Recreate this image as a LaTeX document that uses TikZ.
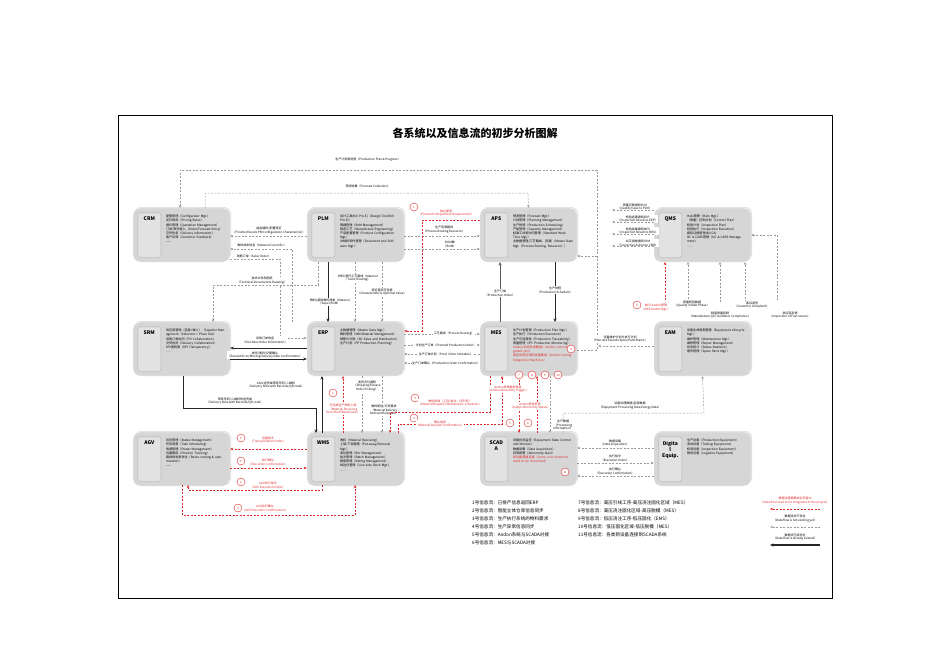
\documentclass[tikz,border=0pt]{standalone}
\usepackage{fontspec}
\setmainfont{Noto Sans CJK SC}
\usetikzlibrary{arrows.meta,calc,shadows}
\definecolor{rd}{HTML}{E0292B}
\definecolor{gl}{HTML}{9A9A9A}
\definecolor{bx}{HTML}{D6D6D6}
\definecolor{st}{HTML}{E2E2E2}
\tikzset{
 sys/.style={draw=white,fill=bx,rounded corners=7pt,minimum width=97pt,minimum height=54pt,drop shadow={opacity=0.25,shadow xshift=1pt,shadow yshift=1pt}},
 txt/.style={font=\fontsize{3.1}{4.2}\selectfont,align=left,anchor=north west,text width=#1,inner sep=0pt},
 txt/.default=60pt,
 ttl/.style={font=\fontsize{5}{6}\selectfont\bfseries,align=center,anchor=north,inner sep=0pt},
 lbl/.style={font=\fontsize{3}{3.8}\selectfont,align=center,inner sep=0.5pt,fill=white},
 rlbl/.style={lbl,text=rd},
 gd/.style={draw=gl,dashed,dash pattern=on 2pt off 1.5pt,line width=0.5pt,-{Stealth[length=3pt,width=2.5pt]}},
 rdd/.style={draw=rd,dash pattern=on 2pt off 1.5pt,line width=0.6pt,-{Stealth[length=3pt,width=2.5pt]}},
 sol/.style={draw=black!85,line width=0.8pt,-{Stealth[length=3.5pt,width=3pt]}},
 circ/.style={circle,draw=rd,fill=white,minimum size=8pt,inner sep=0pt,font=\fontsize{3}{3}\selectfont,text=rd},
 leg/.style={font=\fontsize{4.6}{5.5}\selectfont,anchor=west,inner sep=0pt},
}
\newcommand{\sysbox}[6]{%
 \node[sys] (#1) at (#2,#3) {};
 \draw[draw=gray!60,fill=st,rounded corners=1.5pt] ($(#1.north west)+(5,5)$) rectangle ($(#1.south west)+(28,-5)$);
 \node[ttl] (#1t) at ($(#1.north west)+(16.5,9)$) {#4};
 \node[txt] (#1c) at ($(#1.north west)+(33,7)$) {#5};
}
\begin{document}
\begin{tikzpicture}[x=1pt,y=-1pt]
\fill[white] (0,0) rectangle (950,666);
\useasboundingbox (0,0) rectangle (950,666);
\draw[black,line width=0.7pt] (118,115) rectangle (832,598);
\node[font=\fontsize{11}{12}\selectfont\bfseries] (title) at (475,133) {各系统以及信息流的初步分析图解};

% boxes
\sysbox{crm}{181.5}{235}{CRM}{配置管理（Configurator Mgt.）\\定价规则（Pricing Rules）\\报价管理（Quotation Management）\\订单/预测录入（Order/Forecast Entry）\\交货信息（Delivery Information）\\客户反馈（Customer Feedback）\\——}{}
\sysbox{plm}{355.5}{235}{PLM}{设计工具(Kill Pro.E)（Design Tool(Kill Pro.E)）\\明细管理（BoM Management）\\制造工艺（Manufacture Engineering）\\产品配置管理（Product Configuration Mgt.）\\文档和软件管理（Document and Software Mgt.）}{}
\sysbox{aps}{528.5}{235}{APS}{预测管理（Forecast Mgt.）\\计划管理（Planning Management）\\生产排程（Production Scheduling）\\产能管理（Capacity Management）\\标准工时和时间管理（Standard Work Time Mgt.）\\主数据管理(工艺路线、资源)（Master Data Mgt.（Process Routing, Resource））}{}
\sysbox{qms}{702.5}{235}{QMS}{Halo管理（Halo Mgt.）\\（质量）控制计划（Control Plan）\\检验计划（Inspection Plan）\\检验执行（Inspection Execution）\\报告证据管理(8D/CA)\\NC \& CARS管理（NC \& CARS Management）\\……}{}
\sysbox{srm}{181.5}{349}{SRM}{供应商管理（选择>准入）（Supplier Management（Selection > Place Out）\\采购订单协同（PO Collaboration）\\交货协同（Delivery Collaboration）\\KPI透明度（KPI Transparency）\\……}{}
\sysbox{erp}{355.5}{349}{ERP}{主数据管理（Master Data Mgt.）\\物料管理（MM Material Management）\\销售与分销（SD Sales and Distribution）\\生产计划（PP Production Planning）}{}
\sysbox{mes}{528.5}{349}{MES}{生产计划管理（Production Plan Mgt.）\\生产执行（Production Execution）\\生产可追溯性（Production Traceability）\\质量管理（IPC Production Monitoring）\\\textcolor{rd}{Andon(尚未系统集成)（Andon (not integrated yet)）}\\\textcolor{rd}{高压系统区域的设备集成（Andon Casting Integration Machines）}}{}
\sysbox{eam}{702.5}{349}{EAM}{设备生命周期管理（Equipment Lifecycle Mgt.）\\维护管理（Maintenance Mgt.）\\维修管理（Repair Management）\\状态统计（Status Statistics）\\备件管理（Spare Parts Mgt.）}{}
\sysbox{agv}{181.5}{459}{AGV}{状态管理（Status Management）\\任务调度（Task Scheduling）\\电源管理（Power Management）\\位置跟踪（Position Tracking）\\路线规划和优化（Route routing \& optimization）\\——}{}
\sysbox{wms}{355.5}{459}{WMS}{收料（Material Receiving）\\上架/下架管理（Put-away/Removal Mgt.）\\库位管理（Bin Management）\\批次管理（Batch Management）\\配套管理（Kitting Management）\\线边仓管理（Line-side Stock Mgt.）\\……}{}
\sysbox{scada}{528.5}{459}{SCAD\\A}{设备状态监控（Equipment State Control and Monitor）\\数据采集（Data Acquisition）\\异常报警（Abnormity Alert）\\\textcolor{rd}{新设备需要连接（Some new machines need to be connected）}}{}
\sysbox{dig}{702.5}{459}{Digita\\l\\Equip.}{生产设备（Production Equipment）\\测试设备（Testing Equipment）\\检测设备（Inspection Equipment）\\物流设备（Logistics Equipment）}{}

% top loops
\draw[gd] (mes.east |- 0,350) -- (597,350) -- (597,170) -- (180,170) -- (180,208);
\node[lbl] (l1) at (368,160) {生产计划和进度（Production Plan \& Progress）};
\draw[gd] (205,208) -- (205,193) -- (528,193) -- (aps.north);
\node[lbl] (l2) at (368,186) {预测收集（Forecast Collection）};
% CRM-PLM
\draw[gd] (plm.west |- 0,236) -- (crm.east |- 0,236);
\node[lbl] (l3) at (269,231) {成品编码/配置特征\\（Finished Goods PN/Configuration Characteristic）};
\draw[gd] (292,322) -- (292,249) -- (crm.east |- 0,249);
\node[lbl] (l4) at (262,245) {物料成本信息（Material Cost Info.）};
\draw[gd] (crm.east |- 0,259) -- (280,259) -- (280,338) -- (erp.west |- 0,338);
\node[lbl] (l5) at (254,256) {销售订单（Sales Order）};
\draw[gd] (318,262) -- (318,285) -- (213,285) -- (213,322);
\node[lbl] (l6) at (262,281) {技术文件和图纸\\（Technical Document \& Drawing）};
\draw[sol] (328,262) -- (328,322);
\node[lbl] (l7) at (330,302) {物料/超级物料清单（Material\\ / Super BOM）};
\draw[gd] (355,262) -- (355,322);
\node[lbl] (l8) at (358,278) {材料/替代工艺路线（Material\\ / Tudor Routing）};
\draw[gd] (382,262) -- (382,322);
\node[lbl] (l9) at (382,292) {特征值和可选值\\（Characteristic \& Optional Value）};
% PLM-APS
\draw[gd] (plm.east |- 0,236) -- (aps.west |- 0,236);
\node[lbl] (l10) at (444,230) {生产资源路线\\（Process Routing Resource）};
\draw[gd] (plm.east |- 0,249) -- (aps.west |- 0,249);
\node[lbl] (l11) at (450,244) {BOM数\\（BOM）};
\draw[rdd] (aps.west |- 0,220) -- (422,220) -- (422,331) -- (erp.east |- 0,331);
\node[circ] (c0) at (414,207) {1};
\node[rlbl] (l12) at (446,213) {独立需求\\（Planned Independent Requirement）};
% ERP-MES
\draw[gd] (erp.east |- 0,334) -- (mes.west |- 0,334);
\node[lbl] (l13) at (454,334) {工艺路线（Process Routing）};
\draw[gd] (erp.east |- 0,345) -- (mes.west |- 0,345);
\node[lbl] (l14) at (446,345) {计划生产订单（Planned Production Order）};
\draw[gd] (mes.west |- 0,354) -- (erp.east |- 0,354);
\node[lbl] (l15) at (446,354) {生产订单计划（Prod. Order Schedule）};
\draw[gd] (mes.west |- 0,363) -- (erp.east |- 0,363);
\node[lbl] (l16) at (446,363) {生产订单确认（Production Order Confirmation）};
% APS-MES
\draw[sol,draw=gray!70!black] (500,322) -- (500,262);
\node[lbl] (l17) at (500,293) {生产订单\\（Production Order）};
\draw[sol] (555,262) -- (555,322);
\node[lbl] (l18) at (555,290) {生产排程\\（Production Schedule）};
% SRM-ERP
\draw[sol] (erp.west |- 0,348) -- (srm.east |- 0,348);
\node[lbl] (l19) at (265,340) {采购订单信息\\（Purchase Order Information）};
\draw[sol] (srm.east |- 0,359) -- (erp.west |- 0,359);
\node[lbl] (l20) at (265,355) {收货/差异/交期确认\\（Receipt Error/Missing/Delivery Date Confirmation）};
% SRM-WMS
\draw[sol] (183,376) -- (183,408) -- (316,408) -- (316,433);
\node[lbl] (l21) at (235,401) {带条形码/二维码的送货单\\（Delivery Note with Barcode/QR code）};
\draw[sol] (322,433) -- (322,376);
\node[lbl] (l22) at (276,385) {ASN/送货单带条形码/二维码\\（Delivery Note with Barcode/QR code）};
\draw[rdd] (343,433) -- (343,376);
\node[circ] (c1) at (333,393) {1};
\node[rlbl] (l23) at (343,409) {已完成生产物料入库\\（Material Receiving\\ from Shelf Warehouse）};
\draw[gd] (362,376) -- (362,433);
\node[lbl] (l24) at (367,386) {发货交付通知\\（Shipping Release\\ Order Picking）};
\draw[gd] (382,376) -- (382,433);
\node[lbl] (l25) at (384,410) {物料配送/交货需求\\（Material Delivery\\ Demand Released）};
% MES-WMS red
\draw[rdd] (490,376) -- (490,412) -- (390,412) -- (390,433);
\node[circ] (c3) at (415,398) {3};
\node[rlbl] (l26) at (450,403) {物料申请（工序/批次，序列号）\\（Material Request (Workstation, schedule)）};
\draw[rdd] (398,433) -- (398,424) -- (502,424) -- (502,376);
\node[circ] (c4) at (414,418) {4};
\node[rlbl] (l27) at (440,424) {确认收货\\（Material Receipt Confirmation）};
% MES-SCADA
\draw[rdd] (519,376) -- (519,433);
\node[rlbl] (l28) at (508,389) {Andon异常触发信息\\（Andon Abnormity Trigger）};
\draw[rdd] (537,433) -- (537,376);
\node[rlbl] (l29) at (530,406) {Andon异常反馈\\（Andon Abnormity Status）};
\draw[gd] (550,376) -- (550,433);
\node[lbl] (l30) at (563,425) {生产数据\\（Processing\\ Information）};
\node[circ] (c7) at (519,375) {7};
\node[circ] (c8) at (532,375) {8};
\node[circ] (c9) at (545,375) {9};
\node[circ] (c10) at (558,375) {10};
\node[circ] (c5) at (510,423) {5};
\node[circ] (c6) at (528,423) {6};
\node[circ] (c4b) at (571,349) {4};
\node[circ] (c11) at (565,472) {11};
% QMS side
\foreach \yy/\tt in {207/{质量问题通知PLM\\（Quality Issue to PLM）},219/{检验结果通知ERP\\（Inspection Result to ERP）},231/{检验结果通知MES\\（Inspection Result to MES）},243/{纠正措施通知CRM\\（Corrective Action to CRM）}}{
 \node[lbl,anchor=west] at (617,\yy) {\tt};
}
\draw[gd] (qms.west |- 0,210) -- (612,210);
\draw[gd] (qms.west |- 0,222) -- (612,222);
\draw[gd] (qms.west |- 0,234) -- (612,234);
\draw[gd] (qms.west |- 0,246) -- (612,246);
\draw[gd] (597,256) -- (aps.east |- 0,256);
\draw[rdd] (665,300) -- (665,262);
\node[circ] (c5b) at (637,305) {5};
\node[rlbl] (l31) at (656,308) {MES-Andon管理\\（MES Andon Mgt.）};
\coordinate (q1) at (688,302);
\coordinate (q2) at (720,302);
\coordinate (q3) at (745,302);
\draw[gd] (q1) -- (688,262);
\draw[gd] (q2) -- (720,262);
\draw[gd] (q3) -- (745,262);
\node[lbl] at (692,304) {质量检验数据\\（Quality in R\&D Phase）};
\node[lbl] at (720,315) {制造质量控制\\（Manufacture QCC Guidance Compliance）};
\node[lbl] at (752,305) {客诉退货\\（Customer Complaint）};
\draw[gd] (777,300) -- (777,235) -- (qms.east |- 0,235);
\node[lbl] at (790,315) {供应商反馈\\（Inspection of Fuel source）};
% EAM
\draw[gd] (eam.west |- 0,346) -- (598,346);
\node[lbl] (l32) at (620,339) {设备维护计划与执行计划\\（Plan and Execute Spare Parts Maint.）};
\draw[gd] (563,433) -- (563,413) -- (704,413) -- (eam.south);
\node[lbl] (l33) at (630,406) {设备处理数据/能源数据\\（Equipment Processing Data Energy Data）};
% SCADA-Dig
\draw[gd] (dig.west |- 0,448) -- (scada.east |- 0,448);
\node[lbl] (l34) at (615,443) {数据采集\\（Data Acquisition）};
\draw[gd] (scada.east |- 0,463) -- (dig.west |- 0,463);
\node[lbl] (l35) at (615,458) {执行指令\\（Execution Order）};
\draw[gd] (dig.west |- 0,476) -- (scada.east |- 0,476);
\node[lbl] (l36) at (615,471) {执行确认\\（Execution Confirmation）};
% AGV-WMS
\draw[rdd] (wms.west |- 0,449) -- (agv.east |- 0,449);
\node[circ] (c2a) at (241,438) {2};
\node[rlbl] (l37) at (268,440) {运输指令\\（Transportation Order）};
\draw[rdd] (agv.east |- 0,468) -- (wms.west |- 0,468);
\node[circ] (c2b) at (241,461) {2};
\node[rlbl] (l38) at (268,462) {执行确认\\（Execution Confirmation）};
\draw[rdd] (322,485) -- (322,490) -- (188,490) -- (188,485);
\node[circ] (c2c) at (241,482) {2};
\node[rlbl] (l39) at (268,485) {AGV执行指令\\（AGV Execution Order）};
\draw[rdd] (182,485) -- (182,515) -- (355,515) -- (355,485);
\node[circ] (c2d) at (238,508) {2};
\node[rlbl] (l40) at (265,508) {AGV执行确认\\（AGV Execution Confirmation）};
% legend
\foreach \i/\tt [count=\k] in {1/已排产信息返回ERP,2/智能立体仓库信息同步,3/生产执行系统的物料需求,4/生产异常信息同步,5/Andon系统与SCADA对接,6/MES与SCADA对接}{
 \node[leg] at (472,{503+8*(\k-1)}) {\i 号信息流：\tt};}
\foreach \i/\tt [count=\k] in {7/高压引线工序-高压浇注固化区域（MES）,8/高压浇注固化区域-高压脱模（MES）,9/低压浇注工序-低压固化（EMS）,10/低压固化区域-低压脱模（MES）,11/各类新设备连接到SCADA系统}{
 \node[leg] at (578,{503+8*(\k-1)}) {\i 号信息流：\tt};}
\coordinate (la1) at (820,509); \coordinate (lb1) at (770,509);
\draw[rdd] (la1) -- (lb1);
\node[rlbl,fill=none] at (795,501) {数据流需要集成在项目中\\（Data flow need to be integrated in the project）};
\coordinate (la2) at (820,527); \coordinate (lb2) at (770,527);
\draw[gd] (la2) -- (lb2);
\node[lbl,fill=none] at (795,519) {数据流尚不存在\\（Data flow is not existing yet）};
\coordinate (la3) at (820,545); \coordinate (lb3) at (770,545);
\draw[sol,line width=1.2pt] (la3) -- (lb3);
\node[lbl,fill=none] at (795,537) {数据流已经存在\\（Data flow is already existed）};
\end{tikzpicture}
\end{document}
